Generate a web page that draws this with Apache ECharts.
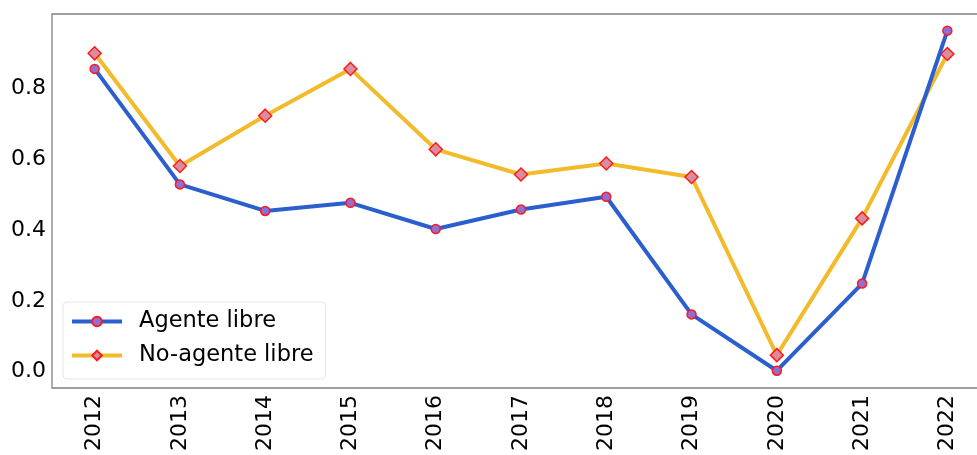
<!DOCTYPE html>
<html>
<head>
<meta charset="utf-8">
<script src="https://cdn.jsdelivr.net/npm/echarts@6/dist/echarts.min.js"></script>
<style>html,body{margin:0;padding:0;background:#fff;overflow:hidden;width:977px;height:455px}#c{width:990px;height:455px}</style>
</head>
<body>
<div id="c"></div>
<script>
const years = ['2012','2013','2014','2015','2016','2017','2018','2019','2020','2021','2022'];
const agenteLibre = [0.855, 0.529, 0.454, 0.477, 0.403, 0.458, 0.494, 0.162, 0.003, 0.249, 0.963];
const noAgenteLibre = [0.899, 0.581, 0.723, 0.855, 0.628, 0.557, 0.588, 0.550, 0.047, 0.433, 0.897];
const seriesNames = ['Agente libre', 'No-agente libre'];
const yTickLabels = ['0.0', '0.2', '0.4', '0.6', '0.8'];

const chart = echarts.init(document.getElementById('c'), null, {renderer: 'canvas'});
const font = 'DejaVu Sans';
chart.setOption({
  animation: false,
  backgroundColor: '#fff',
  grid: {left: 52, top: 14, right: 0, bottom: 67, show: true, borderColor: '#808080', borderWidth: 1.3, backgroundColor: 'transparent'},
  legend: {
    left: 63, top: 302, orient: 'vertical',
    backgroundColor: 'rgba(255,255,255,0.8)', borderColor: '#e6e6e6', borderWidth: 1, borderRadius: 4,
    padding: [8, 12, 12, 7], itemGap: 11, itemWidth: 50, itemHeight: 12,
    lineStyle: {width: 4},
    textStyle: {fontFamily: font, fontSize: 22.5, color: '#000', padding: [0, 0, 0, 12]},
    data: seriesNames
  },
  xAxis: {
    type: 'category', data: years, boundaryGap: true,
    axisLine: {show: false}, axisTick: {show: false},
    axisLabel: {rotate: 90, fontFamily: font, fontSize: 22, color: '#000', margin: 7}
  },
  yAxis: {
    type: 'value', min: -0.0458, max: 1.010, splitNumber: 5,
    splitLine: {show: false}, axisLine: {show: false}, axisTick: {show: false},
    axisLabel: {
      fontFamily: font, fontSize: 22, color: '#000', margin: 6, showMinLabel: false, showMaxLabel: false,
      formatter: v => {
        const k = Math.round(v * 5);
        if (Math.abs(v * 5 - k) > 1e-6) return '';
        return yTickLabels[k] !== undefined ? yTickLabels[k] : '';
      }
    }
  },
  series: [
    {
      name: seriesNames[0], type: 'line', data: agenteLibre,
      lineStyle: {color: '#2b5fce', width: 4}, itemStyle: {color: '#8f6fd6', borderColor: '#ff1a1a', borderWidth: 1.5},
      symbol: 'circle', symbolSize: 9, showAllSymbol: true, z: 3
    },
    {
      name: seriesNames[1], type: 'line', data: noAgenteLibre,
      lineStyle: {color: '#f1bb2c', width: 4}, itemStyle: {color: '#d98ea0', borderColor: '#ff1a1a', borderWidth: 1.5},
      symbol: 'diamond', symbolSize: 13, showAllSymbol: true, z: 2
    }
  ]
});
</script>
</body>
</html>
